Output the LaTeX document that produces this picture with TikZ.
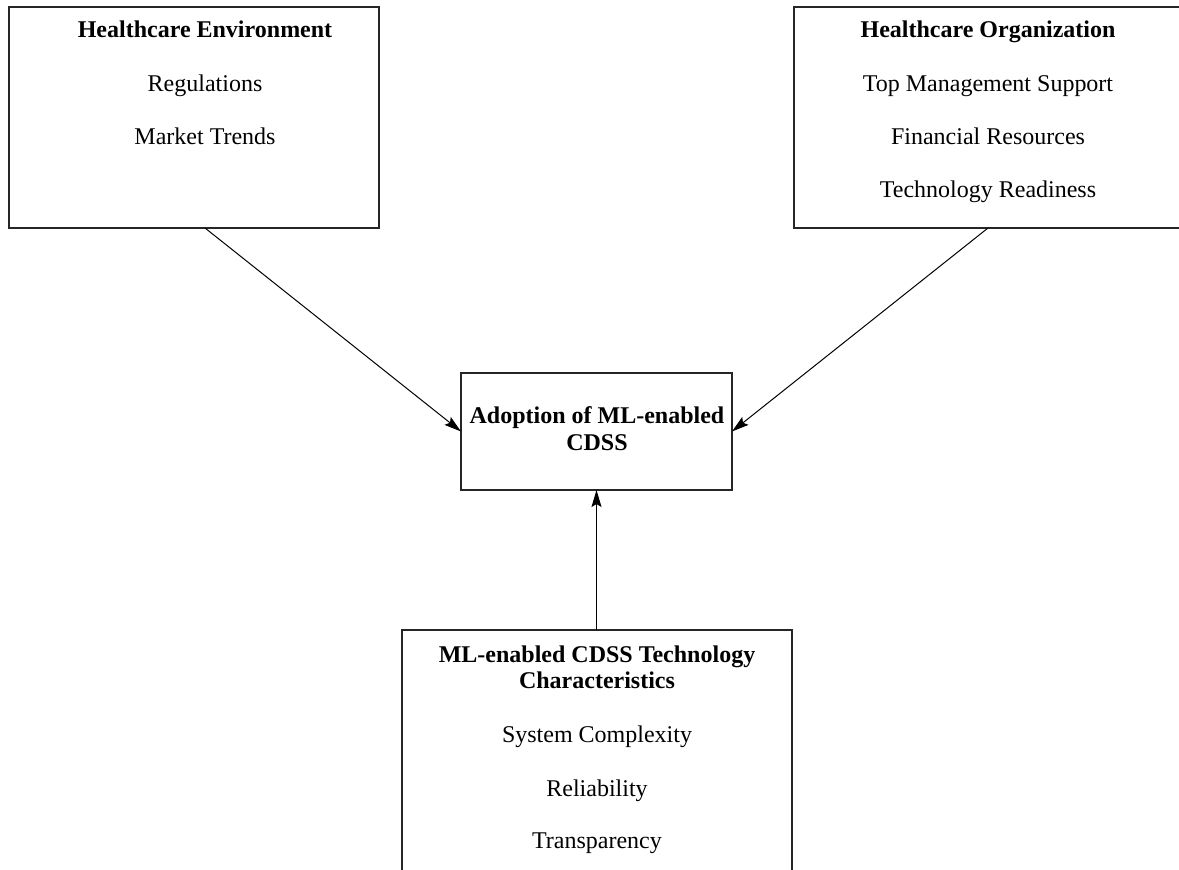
\documentclass[tikz,border=0pt]{standalone}
\usepackage{fontspec}
\setmainfont{Liberation Serif}
\usetikzlibrary{arrows.meta}
\begin{document}
\begin{tikzpicture}[x=1pt,y=-1pt,
  box/.style={draw=black!85,line width=1.6pt,rectangle,anchor=north west,inner sep=0pt,outer sep=0pt},
  ttl/.style={font=\fontsize{24}{26}\selectfont\bfseries,anchor=base,inner sep=0pt},
  itm/.style={font=\fontsize{24}{26}\selectfont,anchor=base,inner sep=0pt},
  arr/.style={draw=black,line width=1pt,-{Stealth[length=17pt,width=10pt,inset=3pt]}}]
\useasboundingbox[fill=white] (0,0) rectangle (1179,870);
\clip (0,0) rectangle (1179,870);
% boxes
\node[box,minimum width=370pt,minimum height=221pt] (env) at (9,7) {};
\node[box,minimum width=400pt,minimum height=221pt] (org) at (794,7) {};
\node[box,minimum width=271pt,minimum height=117pt] (adopt) at (461,373) {};
\node[box,minimum width=390pt,minimum height=260pt] (tech) at (402,630) {};
% texts: environment
\node[ttl] (envtitle) at (205,37) {Healthcare Environment};
\node[itm] (reg) at (205,91) {Regulations};
\node[itm] (mkt) at (205,144) {Market Trends};
% texts: organization
\node[ttl] (orgtitle) at (988,37) {Healthcare Organization};
\node[itm] (tms) at (988,91) {Top Management Support};
\node[itm] (fin) at (988,144) {Financial Resources};
\node[itm] (trd) at (988,197) {Technology Readiness};
% texts: adoption
\node[ttl] (ad1) at (597,423) {Adoption of ML-enabled};
\node[ttl] (ad2) at (597,450) {CDSS};
% texts: technology
\node[ttl] (te1) at (597,662) {ML-enabled CDSS Technology};
\node[ttl] (te2) at (597,688) {Characteristics};
\node[itm] (sc) at (597,742) {System Complexity};
\node[itm] (rel) at (597,796) {Reliability};
\node[itm] (tra) at (597,848) {Transparency};
% arrows
\draw[arr] (env.south -| envtitle) -- (adopt.west);
\draw[arr] (org.south -| orgtitle) -- (adopt.east);
\draw[arr] (tech.north -| adopt) -- (adopt.south);
\end{tikzpicture}
\end{document}
